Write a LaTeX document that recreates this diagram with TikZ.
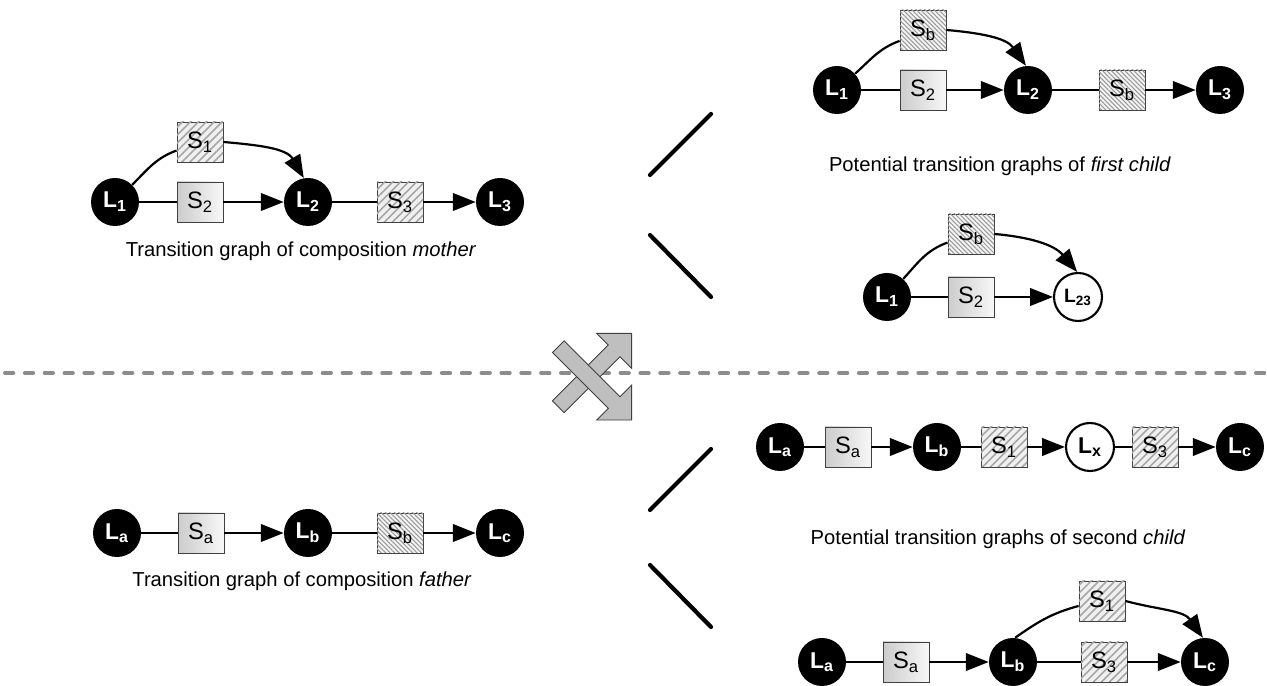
\documentclass[tikz,border=0pt]{standalone}
\usepackage{fontspec}
\setmainfont{Liberation Sans}
\usetikzlibrary{arrows.meta, patterns.meta, positioning}

\tikzset{
  place/.style={circle, fill=black, text=white, font=\bfseries\fontsize{13}{14}\selectfont, minimum size=0.96cm, inner sep=0pt},
  openplace/.style={place, fill=white, text=black, draw=black, line width=1.2pt},
  service/.style={rectangle, draw=black!75, line width=0.5pt, minimum width=0.92cm, minimum height=0.80cm, inner sep=0pt, font=\fontsize{13.5}{14}\selectfont},
  plainsvc/.style={service, left color=black!20, right color=black!3},
  hatchA/.style={service, fill=black!6, postaction={pattern={Lines[angle=45,distance=3.2pt,line width=0.9pt]}, pattern color=black!35}},
  hatchB/.style={service, fill=black!4, postaction={pattern={Lines[angle=-45,distance=1.8pt,line width=0.6pt]}, pattern color=black!40}},
  link/.style={line width=1.25pt},
  arc/.style={link, -{Triangle[length=13pt,width=10pt]}},
  caption/.style={font=\fontsize{11.5}{13}\selectfont},
  split/.style={line width=2.4pt, line cap=round},
  crossarrow/.pic={
    \draw[draw=black!75, fill=black!25, line width=0.5pt]
      (0,-0.165) -- (1.58,-0.165) -- (1.58,-0.494) -- (2.074,0) -- (1.58,0.494) -- (1.58,0.165) -- (0,0.165) -- cycle;
  }
}

\begin{document}
\begin{tikzpicture}
\useasboundingbox (0,0) rectangle (25.34,13.72);

% Separator between the two parents
\draw[line width=2.3pt, black!45, dash pattern=on 4.7pt off 6.6pt, line cap=round] (0.1,6.26) -- (25.3,6.26);

% Crossover sign
\pic[rotate=45] at (11.166,5.586) {crossarrow};
\pic[rotate=-45] at (11.166,6.786) {crossarrow};

% Mother
\node[place] (mL1) at (2.30,9.68) {L\textsubscript{1}};
\node[plainsvc] (mS2) at (4.00,9.68) {S\textsubscript{2}};
\node[hatchA] (mS1) at (4.00,10.88) {S\textsubscript{1}};
\node[place] (mL2) at (6.16,9.68) {L\textsubscript{2}};
\node[hatchA] (mS3) at (8.00,9.68) {S\textsubscript{3}};
\node[place] (mL3) at (10.00,9.68) {L\textsubscript{3}};
\draw[link] (mL1) -- (mS2);
\draw[arc] (mS2) -- (mL2);
\draw[link] (mL1.45) to[out=45,in=200] (mS1.200);
\draw[arc] (mS1.east) to[out=-5,in=120] (mL2.100);
\draw[link] (mL2) -- (mS3);
\draw[arc] (mS3) -- (mL3);
\node[caption] (mcap) at (6.02,8.70) {Transition graph of composition \textit{mother}};

% First child, variant one
\node[place] (aL1) at (16.74,11.92) {L\textsubscript{1}};
\node[plainsvc] (aS2) at (18.46,11.92) {S\textsubscript{2}};
\node[hatchB] (aSb1) at (18.46,13.12) {S\textsubscript{b}};
\node[place] (aL2) at (20.56,11.92) {L\textsubscript{2}};
\node[hatchB] (aSb2) at (22.44,11.92) {S\textsubscript{b}};
\node[place] (aL3) at (24.40,11.92) {L\textsubscript{3}};
\draw[link] (aL1) -- (aS2);
\draw[arc] (aS2) -- (aL2);
\draw[link] (aL1.42) to[out=42,in=200] (aSb1.205);
\draw[arc] (aSb1.east) to[out=-5,in=125] (aL2.95);
\draw[link] (aL2) -- (aSb2);
\draw[arc] (aSb2) -- (aL3);
\node[caption] (acap) at (20.00,10.40) {Potential transition graphs of \textit{first child}};

% First child, variant two
\node[place] (bL1) at (17.74,7.78) {L\textsubscript{1}};
\node[plainsvc] (bS2) at (19.42,7.78) {S\textsubscript{2}};
\node[hatchB] (bSb) at (19.42,9.04) {S\textsubscript{b}};
\node[openplace, font=\bfseries\fontsize{11}{12}\selectfont] (bL23) at (21.56,7.78) {L\textsubscript{23}};
\draw[link] (bL1) -- (bS2);
\draw[arc] (bS2) -- (bL23);
\draw[link] (bL1.48) to[out=48,in=200] (bSb.200);
\draw[arc] (bSb.east) to[out=-5,in=130] (bL23.92);

% Split marks
\draw[split] (13.00,10.22) -- (14.22,11.44);
\draw[split] (13.00,9.02) -- (14.22,7.78);
\draw[split] (13.00,3.52) -- (14.22,4.74);
\draw[split] (13.00,2.42) -- (14.22,1.18);

% Father
\node[place] (fLa) at (2.34,3.06) {L\textsubscript{a}};
\node[plainsvc] (fSa) at (4.02,3.06) {S\textsubscript{a}};
\node[place] (fLb) at (6.16,3.06) {L\textsubscript{b}};
\node[hatchB] (fSb) at (8.00,3.06) {S\textsubscript{b}};
\node[place] (fLc) at (10.00,3.06) {L\textsubscript{c}};
\draw[link] (fLa) -- (fSa);
\draw[arc] (fSa) -- (fLb);
\draw[link] (fLb) -- (fSb);
\draw[arc] (fSb) -- (fLc);
\node[caption] (fcap) at (6.04,2.10) {Transition graph of composition \textit{father}};

% Second child, variant one
\node[place] (cLa) at (15.60,4.78) {L\textsubscript{a}};
\node[plainsvc] (cSa) at (16.96,4.78) {S\textsubscript{a}};
\node[place] (cLb) at (18.74,4.78) {L\textsubscript{b}};
\node[hatchA] (cS1) at (20.08,4.78) {S\textsubscript{1}};
\node[openplace] (cLx) at (21.80,4.78) {L\textsubscript{x}};
\node[hatchA] (cS3) at (23.10,4.78) {S\textsubscript{3}};
\node[place] (cLc) at (24.80,4.78) {L\textsubscript{c}};
\draw[link] (cLa) -- (cSa);
\draw[arc] (cSa) -- (cLb);
\draw[link] (cLb) -- (cS1);
\draw[arc] (cS1) -- (cLx);
\draw[link] (cLx) -- (cS3);
\draw[arc] (cS3) -- (cLc);
\node[caption] (ccap) at (19.96,2.94) {Potential transition graphs of second \textit{child}};

% Second child, variant two
\node[place] (dLa) at (16.44,0.48) {L\textsubscript{a}};
\node[plainsvc] (dSa) at (18.12,0.48) {S\textsubscript{a}};
\node[place] (dLb) at (20.26,0.48) {L\textsubscript{b}};
\node[hatchA] (dS1) at (22.04,1.70) {S\textsubscript{1}};
\node[hatchA] (dS3) at (22.08,0.48) {S\textsubscript{3}};
\node[place] (dLc) at (24.10,0.48) {L\textsubscript{c}};
\draw[link] (dLa) -- (dSa);
\draw[arc] (dSa) -- (dLb);
\draw[link] (dLb) -- (dS3);
\draw[arc] (dS3) -- (dLc);
\draw[link] (dLb.85) to[out=35,in=195] (dS1.192);
\draw[arc] (dS1.east) to[out=-15,in=125] (dLc.95);

\end{tikzpicture}
\end{document}
